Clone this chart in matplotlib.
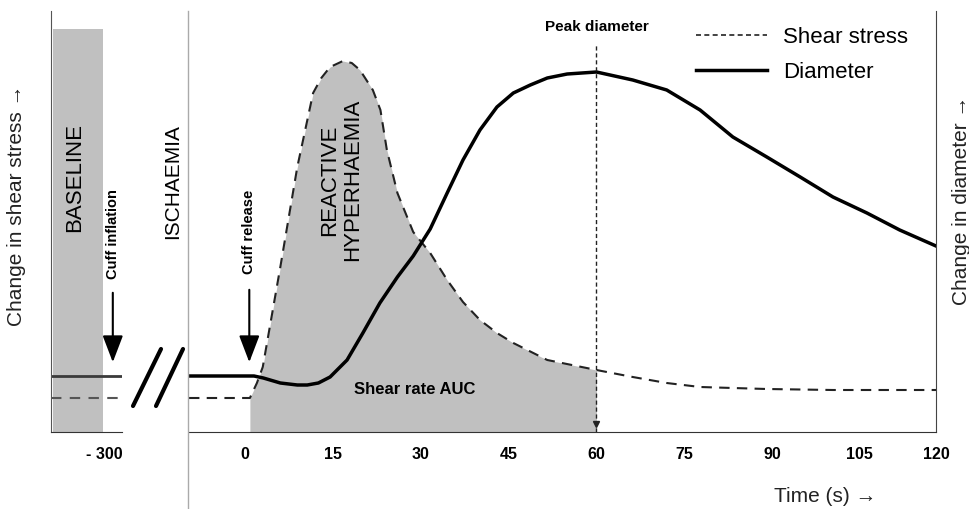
import matplotlib
matplotlib.use("Agg")
import matplotlib.pyplot as plt
from matplotlib.lines import Line2D

plt.rcParams['font.family'] = ['Liberation Sans', 'DejaVu Sans']
NARROW = ['Liberation Sans Narrow', 'Liberation Sans', 'DejaVu Sans']

# shear stress (dashed), arbitrary units, time in s
shear_t = [-9.6, 0.8, 2.0, 3.0, 6.0, 8.9, 11.6, 13.0, 14.5, 16.7, 18.2, 19.6, 21.8, 23.1, 24.2,
           26.0, 28.7, 31.6, 34.5, 37.2, 40.1, 43.0, 45.8, 51.6, 60.0, 66.2, 72.0, 77.7,
           83.3, 89.1, 100.4, 118.0]
shear_v = [3.4, 3.4, 4.9, 6.5, 16.5, 26.5, 33.9, 35.4, 36.5, 37.1, 36.9, 36.2, 34.2, 32.2, 28.2,
           23.9, 20.0, 17.9, 15.2, 13.0, 11.2, 9.9, 8.9, 7.2, 6.2, 5.5, 4.9, 4.5,
           4.4, 4.3, 4.2, 4.2]

# diameter (solid)
diam_t = [-9.6, 1.5, 3.1, 6.0, 8.9, 10.6, 12.5, 14.5, 17.4, 20.1, 23.0, 26.0, 28.7, 31.6, 34.5,
          37.2, 40.1, 43.0, 45.8, 48.7, 51.6, 55.0, 60.0, 66.2, 72.0, 77.7, 83.3, 89.1,
          94.8, 100.4, 106.2, 111.8, 118.0]
diam_v = [5.6, 5.6, 5.4, 4.9, 4.7, 4.7, 4.9, 5.5, 7.2, 9.9, 12.9, 15.5, 17.6, 20.3, 23.9,
          27.2, 30.2, 32.5, 33.9, 34.7, 35.4, 35.8, 36.0, 35.2, 34.2, 32.2, 29.5, 27.5,
          25.5, 23.5, 21.9, 20.2, 18.6]

auc_start = 0.8
peak_time = 60
x_ticks = [0, 15, 30, 45, 60, 75, 90, 105, 120]
xlim_main = (-9.6, 118.0)
ylim = (0, 42.1)

baseline_tick = -300
baseline_span = (-308.7, -300.2)
baseline_top = 40.3
baseline_shear = 3.4
baseline_diam = 5.6
xlim_left = (-309.05, -296.93)

gray = '#c0c0c0'

fig = plt.figure(figsize=(9.7, 5.09), dpi=100)
axl = fig.add_axes([51 / 970, 77 / 509, 71 / 970, 421 / 509])
ax = fig.add_axes([189 / 970, 77 / 509, 747 / 970, 421 / 509])

# ---- left (baseline) panel
axl.fill_between(baseline_span, 0, baseline_top, color=gray, lw=0)
axl.axhline(baseline_diam, color='#3a3a3a', lw=2)
axl.axhline(baseline_shear, color='#555555', lw=1.5, dashes=(5, 4))
axl.set_xlim(xlim_left)
axl.set_ylim(ylim)
axl.set_xticks([baseline_tick])
axl.set_xticklabels(['- 300'], fontweight='bold', fontsize=11.5, family=NARROW)
axl.set_yticks([])
axl.tick_params(length=0, pad=11)
axl.spines['top'].set_visible(False)
axl.spines['right'].set_visible(False)
axl.spines['left'].set_color('#555555')
axl.spines['bottom'].set_color('#333333')
axl.text(-304.95, 25.5, 'BASELINE', rotation=90, ha='center', va='center', fontsize=16)
axl.text(-298.5, 19.8, 'Cuff inflation', rotation=90, ha='center', va='center',
         fontsize=10.5, fontweight='bold', family=NARROW)
axl.annotate('', xy=(-298.5, 6.7), xytext=(-298.5, 14.2),
             arrowprops=dict(arrowstyle='-|>,head_length=1.1,head_width=0.42',
                             mutation_scale=15, lw=1.5, color='k'))

# ---- main panel
mask = [auc_start <= t <= peak_time for t in shear_t]
ax.fill_between(shear_t, 0, shear_v, where=mask, color=gray, lw=0, interpolate=False)
ax.plot(shear_t, shear_v, color='#222222', lw=1.5, dashes=(5, 3.5))
ax.plot(diam_t, diam_v, color='black', lw=2.5)

ax.vlines(peak_time, 0, 38.7, color='#222222', lw=1, linestyles=(0, (3, 2)))
ax.plot([peak_time], [0.8], marker='v', color='#222222', ms=5)
ax.text(peak_time, 40.5, 'Peak diameter', ha='center', va='center',
        fontsize=11, fontweight='bold', family=NARROW)

ax.text(16.4, 25.2, 'REACTIVE\nHYPERHAEMIA', rotation=90, ha='center', va='center',
        fontsize=16, linespacing=1.15)
ax.text(28.9, 4.3, 'Shear rate AUC', ha='center', va='center', fontsize=12,
        fontweight='bold', family=NARROW)
ax.text(0.7, 20.0, 'Cuff release', rotation=90, ha='center', va='center',
        fontsize=10.5, fontweight='bold', family=NARROW)
ax.annotate('', xy=(0.7, 6.7), xytext=(0.7, 14.5),
            arrowprops=dict(arrowstyle='-|>,head_length=1.1,head_width=0.42',
                            mutation_scale=15, lw=1.5, color='k'))

ax.set_xlim(xlim_main)
ax.set_ylim(ylim)
ax.set_xticks(x_ticks[:-1] + [xlim_main[1]])
ax.set_xticklabels([str(t) for t in x_ticks], fontweight='bold', fontsize=11.5, family=NARROW)
ax.set_yticks([])
ax.tick_params(length=0, pad=11)
ax.spines['top'].set_visible(False)
ax.spines['left'].set_visible(False)
ax.spines['right'].set_color('#444444')
ax.spines['bottom'].set_color('#333333')

handles = [Line2D([], [], color='#222222', lw=1.2, dashes=(3, 2)),
           Line2D([], [], color='black', lw=2.5)]
fig.legend(handles, ['Shear stress', 'Diameter'], loc='upper left',
           bbox_to_anchor=(696 / 970, 1 - 27 / 509), frameon=False, fontsize=16,
           handlelength=3.2, handletextpad=0.7, labelspacing=0.62, borderpad=0, borderaxespad=0)

# figure decorations
fig.add_artist(Line2D([188.5 / 970] * 2, [0, 1 - 11 / 509], color='#aaaaaa', lw=1))
for x0, x1 in [(133, 161), (156, 183)]:
    fig.add_artist(Line2D([x0 / 970, x1 / 970], [1 - 406 / 509, 1 - 349 / 509],
                          color='black', lw=3, solid_capstyle='round'))
fig.text(173 / 970, 1 - 182 / 509, 'ISCHAEMIA', rotation=90, ha='center', va='center', fontsize=15)
fig.text(17 / 970, 1 - 205 / 509, 'Change in shear stress \u2192', rotation=90,
         ha='center', va='center', fontsize=15, color='#222222')
fig.text(962 / 970, 1 - 200 / 509, 'Change in diameter \u2192', rotation=90,
         ha='center', va='center', fontsize=15, color='#222222')
fig.text(825 / 970, 1 - 497 / 509, 'Time (s) \u2192', ha='center', va='center',
         fontsize=15, color='#222222')

fig.savefig('out.png', dpi=100)
